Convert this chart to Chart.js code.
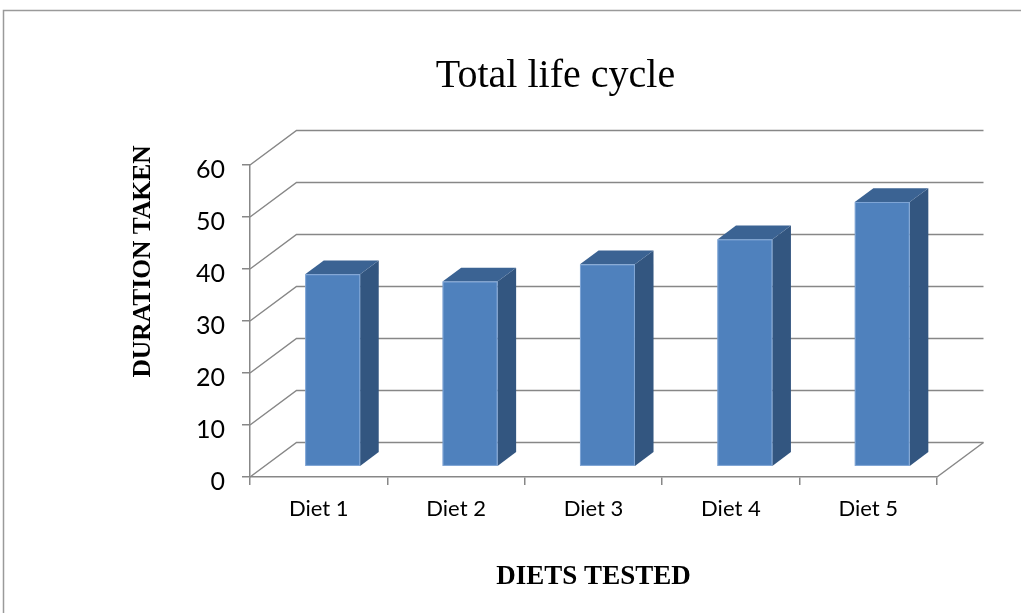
<!DOCTYPE html>
<html>
<head>
<meta charset="utf-8">
<title>Total life cycle</title>
<script src="https://cdn.jsdelivr.net/npm/chart.js@4.4.1/dist/chart.umd.min.js"></script>
<style>
  html, body { margin: 0; padding: 0; background: #fff; overflow: hidden; }
  canvas { display: block; }
</style>
</head>
<body>
<canvas id="lifeCycle" width="1021" height="613"></canvas>
<script>
// data
const diets = ["Diet 1", "Diet 2", "Diet 3", "Diet 4", "Diet 5"];
const durationTaken = [37, 35.6, 38.9, 43.7, 50.9];
const yMin = 0;
const yMax = 60;
const yStep = 10;

const gridColor = "#878787";
// oblique depth of the 3D box (back wall offset)
const depthX = 46.5;
const depthY = -34.5;

// walls, floor and gridlines behind the bars, then the 3D bars
const box3d = {
    id: "box3d",
    beforeDraw(chart) {
        const ctx = chart.ctx;
        ctx.save();
        ctx.strokeStyle = "#9a9a9a";
        ctx.lineWidth = 1.5;
        ctx.beginPath();
        ctx.moveTo(3.5, chart.height);
        ctx.lineTo(3.5, 10.5);
        ctx.lineTo(chart.width, 10.5);
        ctx.stroke();
        ctx.restore();
    },
    beforeDatasetsDraw(chart) {
        const { ctx, chartArea, scales } = chart;
        const y = scales.y;
        ctx.save();
        ctx.strokeStyle = gridColor;
        ctx.lineWidth = 1.5;
        y.ticks.forEach((t) => {
            const py = y.getPixelForValue(t.value);
            ctx.beginPath();
            ctx.moveTo(chartArea.left, py);
            ctx.lineTo(chartArea.left + depthX, py + depthY);
            ctx.lineTo(chartArea.right + depthX, py + depthY);
            ctx.stroke();
        });
        // right edge of the floor
        const py0 = y.getPixelForValue(yMin);
        ctx.beginPath();
        ctx.moveTo(chartArea.right, py0);
        ctx.lineTo(chartArea.right + depthX, py0 + depthY);
        ctx.stroke();
        ctx.restore();
    },
    afterDatasetsDraw(chart) {
        const ctx = chart.ctx;
        const meta = chart.getDatasetMeta(0);
        const fx = 0.3 * depthX, fy = 0.3 * depthY;
        const dx = 0.4 * depthX, dy = 0.4 * depthY;
        ctx.save();
        meta.data.forEach((bar) => {
            const half = bar.width / 2;
            const x0 = bar.x - half + fx;
            const x1 = bar.x + half + fx;
            const yt = bar.y + fy;
            const yb = bar.base + fy;

            // side
            ctx.fillStyle = "#335680";
            ctx.beginPath();
            ctx.moveTo(x1, yt);
            ctx.lineTo(x1 + dx, yt + dy);
            ctx.lineTo(x1 + dx, yb + dy);
            ctx.lineTo(x1, yb);
            ctx.closePath();
            ctx.fill();

            // top
            ctx.fillStyle = "#3b6393";
            ctx.beginPath();
            ctx.moveTo(x0, yt);
            ctx.lineTo(x0 + dx, yt + dy);
            ctx.lineTo(x1 + dx, yt + dy);
            ctx.lineTo(x1, yt);
            ctx.closePath();
            ctx.fill();

            // front
            ctx.fillStyle = "#4f81bd";
            ctx.fillRect(x0, yt, x1 - x0, yb - yt);
            ctx.strokeStyle = "rgba(160, 190, 230, 0.6)";
            ctx.lineWidth = 1;
            ctx.strokeRect(x0 + 0.5, yt + 0.5, x1 - x0 - 1, yb - yt - 1);
        });
        ctx.restore();
    },
    afterDraw(chart) {
        // vertical axis title
        const ctx = chart.ctx;
        ctx.save();
        ctx.translate(143, 261.5);
        ctx.rotate(-Math.PI / 2);
        ctx.font = "bold 25.5px 'Liberation Serif'";
        ctx.fillStyle = "#000";
        ctx.textAlign = "center";
        ctx.textBaseline = "middle";
        ctx.fillText("DURATION TAKEN", 0, 0);
        ctx.restore();
    }
};

const ctxLife = document.getElementById("lifeCycle");

new Chart(ctxLife, {
    type: "bar",
    data: {
        labels: diets,
        datasets: [
            {
                label: "Total life cycle",
                data: durationTaken,
                backgroundColor: "rgba(0,0,0,0)",
                borderWidth: 0,
                categoryPercentage: 1,
                barPercentage: 0.4
            }
        ]
    },
    options: {
        responsive: false,
        animation: false,
        events: [],
        layout: {
            padding: { left: 174, right: 84, top: 0, bottom: 0 }
        },
        plugins: {
            legend: { display: false },
            tooltip: { enabled: false },
            title: {
                display: true,
                text: "Total life cycle",
                color: "#000",
                font: { family: "'Liberation Serif'", size: 40, weight: "normal", lineHeight: 1.2 },
                padding: { top: 52, bottom: 65 }
            }
        },
        scales: {
            x: {
                afterFit: (scale) => { scale.height = 136; },
                grid: {
                    drawOnChartArea: false,
                    drawTicks: true,
                    tickLength: 8,
                    color: gridColor,
                    lineWidth: 1.5
                },
                border: { display: true, color: gridColor, width: 1.5 },
                ticks: {
                    color: "#000",
                    font: { family: "Lato", size: 22 },
                    padding: 11
                },
                title: {
                    display: true,
                    text: "DIETS TESTED",
                    color: "#000",
                    font: { family: "'Liberation Serif'", size: 27, weight: "bold", lineHeight: 1.2 },
                    padding: { top: 0, bottom: 20 }
                }
            },
            y: {
                min: yMin,
                max: yMax,
                afterFit: (scale) => { scale.width = 76; },
                grid: {
                    drawOnChartArea: false,
                    drawTicks: true,
                    tickLength: 8,
                    color: gridColor,
                    lineWidth: 1.5
                },
                border: { display: true, color: gridColor, width: 1.5 },
                ticks: {
                    stepSize: yStep,
                    color: "#000",
                    font: { family: "Lato", size: 25 },
                    padding: 17,
                    labelOffset: 5
                }
            }
        }
    },
    plugins: [box3d]
});
</script>
</body>
</html>
